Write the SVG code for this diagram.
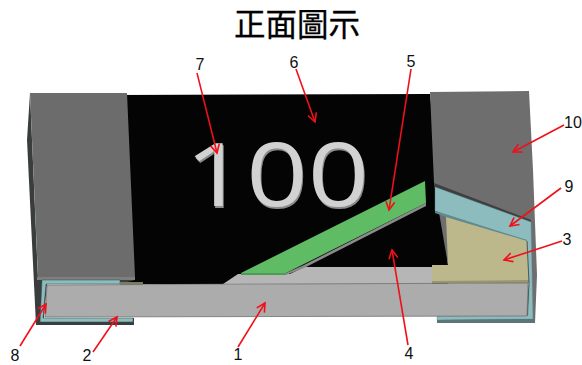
<svg xmlns="http://www.w3.org/2000/svg" width="582" height="365" viewBox="0 0 582 365">
<style>
.n{font:16px "Liberation Sans","Noto Sans",sans-serif;fill:#111;text-anchor:middle}
.t{font:400 31.5px "Liberation Sans","Noto Sans CJK TC","Noto Sans CJK JP",sans-serif;fill:#000;stroke:#000;stroke-width:.3;text-anchor:middle}
.d{font:88px "Open Sans","Noto Sans",sans-serif;text-anchor:start;fill:#d2d2d2;filter:url(#s)}
.a{stroke:#f0101a;stroke-width:1.6;fill:none;marker-end:url(#h)}
</style>
<defs>
<marker id="h" viewBox="0 0 12 12" refX="10" refY="6" markerWidth="12" markerHeight="12" markerUnits="userSpaceOnUse" orient="auto"><path d="M1.5 1.5L10 6L1.5 10.5" fill="none" stroke="#f0101a" stroke-width="1.6"/></marker>
<filter id="s" x="-5%" y="-5%" width="110%" height="115%"><feDropShadow dx="1" dy="2" stdDeviation="0" flood-color="#8c8c8c"/></filter>
</defs>
<rect width="582" height="365" fill="#fff"/>
<text class="t" x="297" y="36">正面圖示</text>
<g id="body">
<polygon points="120,95 430,94 448,265 448,284 120,284" fill="#040404"/>
<polygon points="223,284 238,274 290,274 304,267 432,267 432,284" fill="#b6b6b6"/>
</g>
<g id="marking">
<text class="d" x="185" y="206" textLength="184" lengthAdjust="spacingAndGlyphs">100</text>
</g>
<g id="green">
<polygon points="286,273 304,265 426,203 426,206 304,268 286,275" fill="#8b8b8b"/>
<polygon points="241,273 425,181 426,203 286,273" fill="#5fbc64"/>
<polygon points="241,273 286,273 286,275 241,275" fill="#4f9a55"/>
</g>
<g id="left-terminal">
<polygon points="30,93 27,140 36,325 134,325 134,318 44,318 47,284 120,284 135,280 38,279" fill="#3a3d3e"/>
<polygon points="30,93 127,93 135,277 38,277" fill="#6c6c6c"/>
<polygon points="37,277 135,277 135,280 37,280" fill="#7e7e7e"/>
<polygon points="42,280 120,280 120,284 46,284 43,318 133,318 133,322 40,322" fill="#8dbcbf" stroke="#33484e" stroke-width=".5"/>
<polygon points="120,282 143,282 143,285 120,285" fill="#7b7b5e"/>
</g>
<g id="right-terminal">
<polygon points="430,92 529,91 533,170 537,275 535,323 437,323 437,317 526,316 529,283 432,283 432,265 448,265 434,183" fill="#6e6e6e"/>
<polygon points="434,183 531,220 531,224 435,187" fill="#3f3f3f"/>
<polygon points="435,187 531,222 533,319 437,320 437,316 528,315 529,283 527,241 435,211" fill="#8dbcbf" stroke="#5e8a90" stroke-width=".4"/>
<polygon points="437,320 533,319 535,323 437,323" fill="#5b7579"/>
<polygon points="435,211 527,240 527,242 446,217 435,213" fill="#5e8a90"/>
<polygon points="446,217 527,241 529,283 432,283 432,265 448,265" fill="#bdb88c"/>
<polygon points="432,281 529,280 529,283 432,283" fill="#9a9670"/>
<polyline points="527,241 529,283 527,316" fill="none" stroke="#33484e" stroke-width=".8"/>
</g>
<g id="front">
<polygon points="47,285 528,283 527,316 45,317" fill="#acacac" stroke="#707070" stroke-width=".8"/>
</g>
<g id="connectors">
<line class="a" x1="197" y1="73" x2="217" y2="153"/>
<line class="a" x1="296" y1="69" x2="315" y2="122"/>
<line class="a" x1="411" y1="69" x2="389" y2="210"/>
<line class="a" x1="408" y1="345" x2="392" y2="250"/>
<line class="a" x1="564" y1="125" x2="513" y2="152"/>
<line class="a" x1="561" y1="188" x2="510" y2="226"/>
<line class="a" x1="562" y1="241" x2="504" y2="260"/>
<line class="a" x1="238" y1="347" x2="265" y2="303"/>
<line class="a" x1="93" y1="352" x2="117" y2="317"/>
<line class="a" x1="20" y1="346" x2="46" y2="304"/>
</g>
<g id="labels">
<text class="n" x="200" y="70">7</text>
<text class="n" x="294" y="68">6</text>
<text class="n" x="411" y="67">5</text>
<text class="n" x="573" y="128">10</text>
<text class="n" x="569" y="192">9</text>
<text class="n" x="567" y="245">3</text>
<text class="n" x="409" y="359">4</text>
<text class="n" x="238" y="360">1</text>
<text class="n" x="87" y="361">2</text>
<text class="n" x="15" y="361">8</text>
</g>
</svg>
